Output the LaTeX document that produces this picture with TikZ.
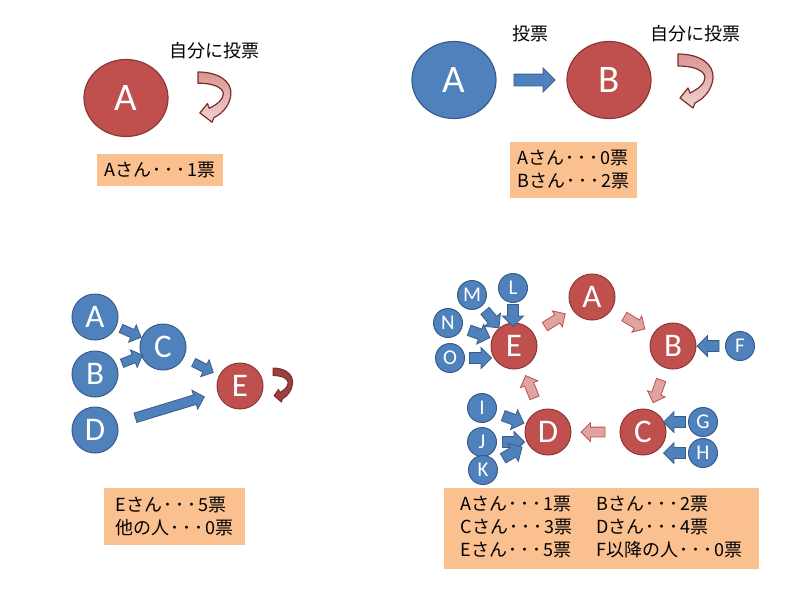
\documentclass[tikz,border=0pt]{standalone}
\usepackage{fontspec}
\usepackage{xcolor}
\usetikzlibrary{positioning, arrows.meta, shapes.geometric, shapes.arrows}
\newfontfamily\jpfont{Noto Sans CJK JP}
\newfontfamily\letterfont{Carlito}
\definecolor{votered}{HTML}{C0504D}
\definecolor{voteredline}{HTML}{8C3836}
\definecolor{voteblue}{HTML}{4F81BD}
\definecolor{voteblueline}{HTML}{385D8A}
\definecolor{votepink}{HTML}{DFA3A1}
\definecolor{voteorange}{HTML}{FAC090}
\definecolor{loopline}{HTML}{7F2B29}
\newcommand{\votedots}{\kern1pt･\kern3pt･\kern3pt･\kern2pt}

\begin{document}
\begin{tikzpicture}[
  x=1pt, y=-1pt,
  every node/.style={align=center},
  redbig/.style={ellipse, fill=votered, draw=voteredline, line width=1.2pt,
    minimum width=84pt, minimum height=77pt, text=white, font=\letterfont\fontsize{39}{39}\selectfont},
  bluebig/.style={redbig, fill=voteblue, draw=voteblueline},
  redcirc/.style={circle, fill=votered, draw=voteredline, line width=1pt,
    minimum size=46pt, inner sep=0pt, text=white, font=\letterfont\fontsize{33}{33}\selectfont},
  bluecirc/.style={redcirc, fill=voteblue, draw=voteblueline},
  bluesmall/.style={bluecirc, minimum size=29pt, font=\letterfont\fontsize{21}{21}\selectfont},
  tally/.style={rectangle, fill=voteorange, inner sep=0pt, align=left,
    font=\jpfont\fontsize{18}{23}\selectfont},
  caption/.style={font=\jpfont\fontsize{18}{18}\selectfont, inner sep=0pt},
  bluearrow/.style={single arrow, fill=voteblue, draw=voteblueline, line width=0.8pt,
    inner xsep=0pt, inner ysep=5pt, text height=0pt, text depth=0pt, text width=0pt,
    single arrow head extend=5pt, minimum height=#1, sloped, allow upside down},
  bluearrow/.default=22pt,
  redarrow/.style={bluearrow=#1, fill=votepink, draw=votered, inner ysep=4.5pt, single arrow head extend=4.5pt},
  redarrow/.default=24pt,
  pics/selfvote/.style={code={
    \draw[#1] (0,0) .. controls (22,0) and (36,10) .. (35,24)
      .. controls (34,35) and (27,44) .. (17,49) -- (15,54) -- (2,44) -- (10,34) -- (12,39)
      .. controls (20,35) and (27,30) .. (27,23) .. controls (26,16) and (15,12) .. (0,12) -- cycle;
  }},
  pinkloop/.style={line width=1.2pt, draw=loopline, line join=round,
    top color=votered!60, bottom color=votered!25},
  darkloop/.style={line width=1pt, draw=loopline, line join=round, fill=votered!80!black}
]
\useasboundingbox (0,0) rectangle (800,600);

% Top left: A votes for itself
\node[redbig] (tlA) at (126,98) {A};
\node[caption] (tlcap) at (214,51) {自分に投票};
\pic[xscale=0.94, yscale=0.93] at (198,72) {selfvote=pinkloop};
\node[tally, minimum width=126pt, minimum height=32pt] (tltally) at (160,170) {Aさん\votedots 1票};

% Top right: A votes for B, B votes for itself
\node[bluebig] (trA) at (454,80) {A};
\node[redbig] (trB) at (609,80) {B};
\path (trA) -- node[bluearrow=41pt, inner ysep=5.5pt, single arrow head extend=6pt] (trAB) {} (trB);
\node[caption] (trcap1) at (530,34) {投票};
\node[caption] (trcap2) at (695,34) {自分に投票};
\pic at (678,54) {selfvote=pinkloop};
\node[tally, minimum width=127pt, minimum height=56pt] (trtally) at (573.5,170) {Aさん\votedots 0票\\Bさん\votedots 2票};

% Bottom left: chain into E
\node[bluecirc] (blA) at (95,317) {A};
\node[bluecirc] (blB) at (95,374) {B};
\node[bluecirc] (blD) at (95,430) {D};
\node[bluecirc] (blC) at (163,347) {C};
\node[redcirc] (blE) at (240,386) {E};
\path (blA) -- node[bluearrow, inner ysep=4pt] {} (blC);
\path (blB) -- node[bluearrow, inner ysep=4pt, pos=0.55] {} (blC);
\path (blC) -- node[bluearrow, inner ysep=4pt] {} (blE);
\path (blD) -- node[bluearrow=72pt, inner ysep=4.5pt] {} (blE);
\pic[xscale=0.56, yscale=0.63] at (273,368) {selfvote=darkloop};
\node[tally, minimum width=141pt, minimum height=57pt] (bltally) at (174.5,516.5) {Eさん\votedots 5票\\他の人\votedots 0票};

% Bottom right: cycle A-B-C-D-E with supporters
\node[redcirc] (brA) at (592,297) {A};
\node[redcirc] (brB) at (673,346) {B};
\node[redcirc] (brC) at (643,432) {C};
\node[redcirc] (brD) at (548,432) {D};
\node[redcirc] (brE) at (514,346) {E};
\path (brE) -- node[redarrow] {} (brA);
\path (brA) -- node[redarrow] {} (brB);
\path (brB) -- node[redarrow] {} (brC);
\path (brC) -- node[redarrow] {} (brD);
\path (brD) -- node[redarrow] {} (brE);

\node[bluesmall] (brF) at (740,346) {F};
\node[bluesmall] (brG) at (703,422) {G};
\node[bluesmall] (brH) at (703,453) {H};
\node[bluesmall] (brI) at (482,408) {I};
\node[bluesmall] (brJ) at (482,442) {J};
\node[bluesmall] (brK) at (483,470) {K};
\node[bluesmall] (brL) at (513,288) {L};
\node[bluesmall] (brM) at (472,295) {M};
\node[bluesmall] (brN) at (448,323) {N};
\node[bluesmall] (brO) at (450,358) {O};
\path (brF) -- node[bluearrow] {} (brF -| brB.east);
\path (brG) -- node[bluearrow] {} (brG -| brC.east);
\path (brH) -- node[bluearrow] {} (brH -| brC.east);
\path (brI) -- node[bluearrow] {} (brD);
\path (brJ) -- node[bluearrow] {} (brJ -| brD.west);
\path (brK) -- node[bluearrow, pos=0.45] {} (brD);
\path (brL) -- node[bluearrow] {} (brL |- brE.north);
\path (brM) -- node[bluearrow] {} (brE);
\path (brN) -- node[bluearrow] {} (brE);
\path (brO) -- node[bluearrow] {} (brO -| brE.west);

\node[tally, minimum width=315pt, minimum height=81pt] (brtally) at (601.5,528.5)
  {\begin{tabular}{@{}l@{\hspace{24pt}}l@{}}
   Aさん\votedots 1票 & Bさん\votedots 2票\\
   Cさん\votedots 3票 & Dさん\votedots 4票\\
   Eさん\votedots 5票 & F以降の人\votedots 0票
   \end{tabular}};

\end{tikzpicture}
\end{document}
